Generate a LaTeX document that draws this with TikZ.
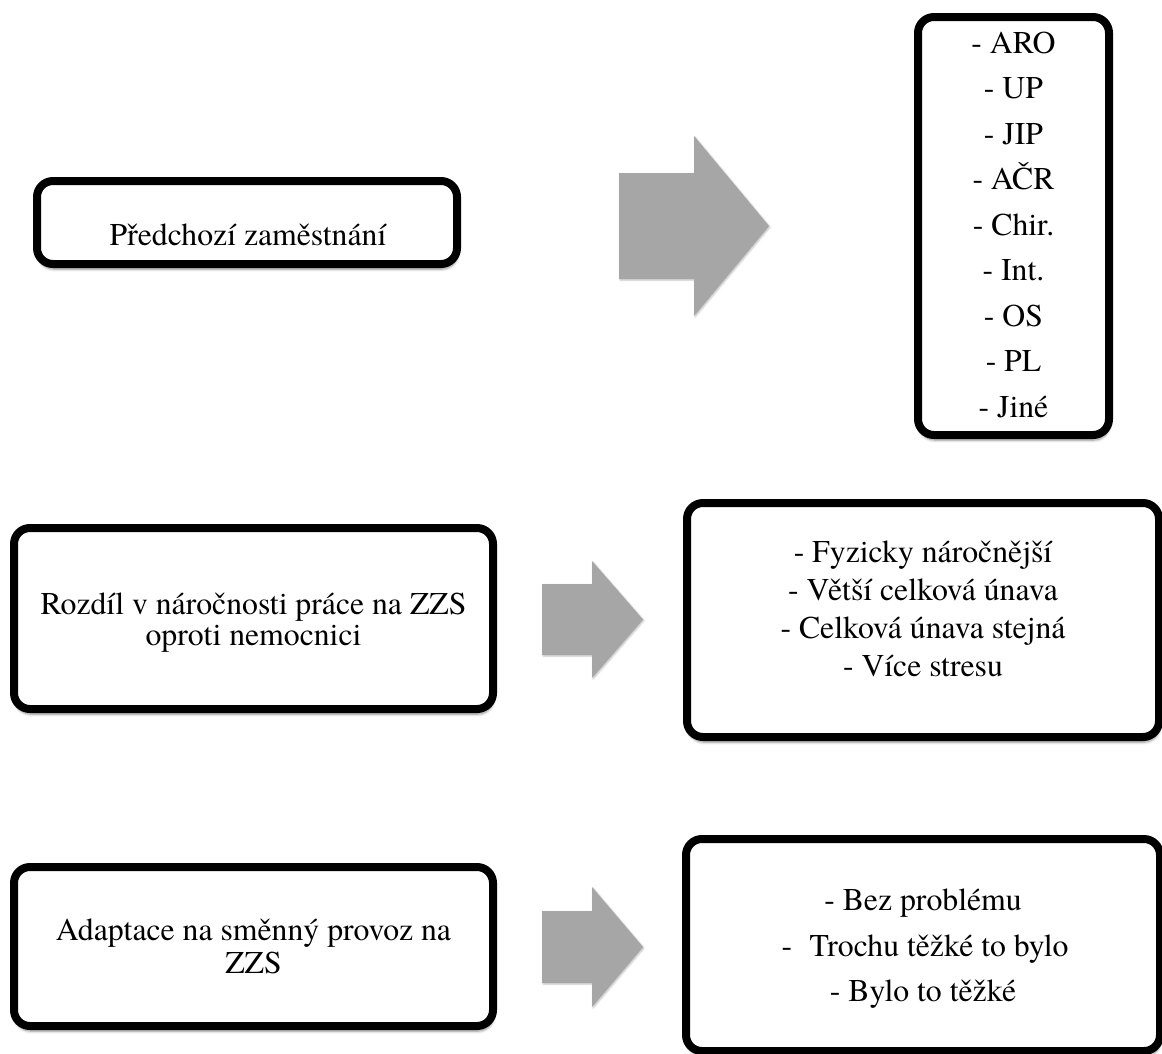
\documentclass[tikz,border=0pt]{standalone}
\usepackage{fontspec}
\setmainfont{TeX Gyre Termes}
\usetikzlibrary{shadows.blur}
\definecolor{arrowgray}{RGB}{166,166,166}
\begin{document}
\begin{tikzpicture}[x=0.75pt, y=-0.75pt,
  panel/.style={draw=black, fill=white, line width=6pt, rounded corners=12pt,
    inner sep=0pt, outer sep=0pt,
    blur shadow={shadow xshift=0.6pt, shadow yshift=-3.8pt,
      shadow blur radius=2pt, shadow blur steps=8, shadow opacity=45}},
  blockarrow/.style={fill=arrowgray, draw=none,
    blur shadow={shadow xshift=0.8pt, shadow yshift=-0.8pt,
      shadow blur radius=1.2pt, shadow blur steps=5, shadow opacity=25}},
  txt/.style={font=\fontsize{23.8}{28}\selectfont, anchor=base, inner sep=0pt}]

\useasboundingbox (0,0) rectangle (1162,1053);

% rounded frames
\node[panel, minimum width=315pt,   minimum height=62.25pt] (prev)   at (247,222.5)  {};
\node[panel, minimum width=143.25pt, minimum height=313.5pt] (plist)  at (1013.5,226) {};
\node[panel, minimum width=359.25pt, minimum height=135.75pt] (diff)  at (253.5,618.5) {};
\node[panel, minimum width=354pt,   minimum height=175.5pt] (dlist)   at (923,620)    {};
\node[panel, minimum width=359.25pt, minimum height=119.25pt] (adapt) at (253.5,946.5) {};
\node[panel, minimum width=355.5pt, minimum height=159pt]   (alist)   at (923,945)    {};

% block arrows between the columns
\fill[blockarrow] (619,173) -- (694,173) -- (694,136) -- (769,226)
  -- (694,316) -- (694,279) -- (619,279) -- cycle;
\fill[blockarrow] (542,584) -- (592,584) -- (592,561) -- (643,619.5)
  -- (592,678) -- (592,655) -- (542,655) -- cycle;
\fill[blockarrow] (542,911) -- (592,911) -- (592,887) -- (643,947)
  -- (592,1007) -- (592,983) -- (542,983) -- cycle;

% left column
\node[txt] (prevt) at (248,245) {Předchozí zaměstnání};
\node[txt] (difft1) at (253.5,614) {Rozdíl v náročnosti práce na ZZS};
\node[txt] (difft2) at (253.5,645) {oproti nemocnici};
\node[txt] (adaptt1) at (253.5,940) {Adaptace na směnný provoz na};
\node[txt] (adaptt2) at (253.5,973) {ZZS};

% previous workplaces
\foreach \t [count=\i from 0] in {ARO,UP,JIP,AČR,Chir.,Int.,OS,PL,Jiné}
  \node[txt] (p\i) at (1013.5,53+45.5*\i) {- \t};

% differences in workload
\node[txt] (d1) at (923,562) {- Fyzicky náročnější};
\node[txt] (d2) at (923,600) {- Větší celková únava};
\node[txt] (d3) at (923,638) {- Celková únava stejná};
\node[txt] (d4) at (923,676) {- Více stresu};

% adaptation to shift work
\node[txt] (a1) at (923,910) {- Bez problému};
\node[txt] (a2) at (925,956) {-\hspace{0.55em}Trochu těžké to bylo};
\node[txt] (a3) at (923,1001) {- Bylo to těžké};
\end{tikzpicture}
\end{document}
